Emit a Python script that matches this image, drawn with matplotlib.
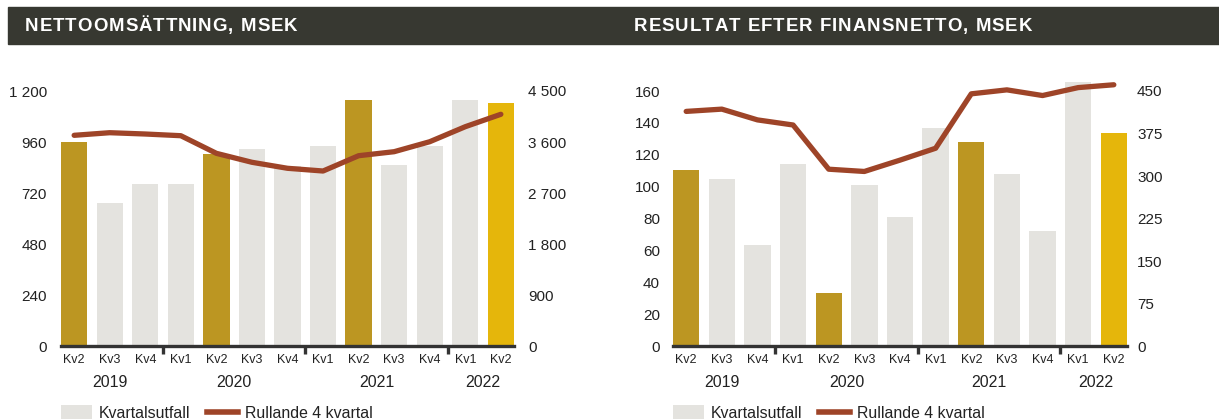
import matplotlib
matplotlib.use("Agg")
import matplotlib.pyplot as plt
from matplotlib.patches import Patch
from matplotlib.lines import Line2D
from matplotlib.font_manager import FontProperties
from matplotlib.textpath import TextToPath

plt.rcParams["font.family"] = ["Liberation Sans", "DejaVu Sans"]

# Data
quarters = ["Kv2", "Kv3", "Kv4", "Kv1", "Kv2", "Kv3", "Kv4",
            "Kv1", "Kv2", "Kv3", "Kv4", "Kv1", "Kv2"]
years = ["2019", "2020", "2021", "2022"]
year_pos = [1.0, 4.5, 8.5, 11.5]
year_breaks = [2.5, 6.5, 10.5]

net_sales = [960, 673, 762, 762, 904, 927, 847, 941, 1158, 852, 941, 1158, 1144]
net_sales_r4 = [3718, 3764, 3741, 3711, 3400, 3242, 3136, 3088, 3358, 3429, 3605, 3870, 4089]

result = [110.4, 104.8, 63.4, 114.2, 33.3, 101.0, 81.1, 136.8, 128.0, 107.9, 72.1, 165.6, 133.6]
result_r4 = [414, 418, 399, 390, 312, 308, 328, 349, 445, 452, 442, 456, 461]

# Colours
c_title = "#373831"
c_gold = "#bc9622"
c_yellow = "#e5b60b"
c_grey = "#e4e3df"
c_line = "#9e4428"
c_axis = "#333333"
c_text = "#222222"

W, H = 1219, 419
fig = plt.figure(figsize=(W / 100, H / 100), dpi=100)


def px(x0, y0, x1, y1):
    # pixel box (top-left origin) -> figure fraction rect
    return [x0 / W, 1 - y1 / H, (x1 - x0) / W, (y1 - y0) / H]


def spaced_title(x, y, s, size=13.4, track=1.0):
    # letter-spaced bold heading, x/y in pixels
    prop = FontProperties(family="Liberation Sans", weight="bold", size=size)
    ttp = TextToPath()
    for ch in s:
        fig.text(x / W, 1 - y / H, ch, fontproperties=prop, color="white",
                 va="center", ha="left")
        w = ttp.get_text_width_height_descent(ch, prop, ismath=False)[0]
        x += w * 100 / 72 + track


# Title band across the whole width
fig.patches.append(plt.Rectangle((8 / W, 1 - 44 / H), 1 - 8 / W, 37 / H,
                                 transform=fig.transFigure, color=c_title, zorder=0))
spaced_title(25, 26.5, "NETTOOMSÄTTNING, MSEK")
spaced_title(634, 26.5, "RESULTAT EFTER FINANSNETTO, MSEK")

bar_colors = [c_gold if q == "Kv2" else c_grey for q in quarters]
bar_colors[-1] = c_yellow


def panel(x0, x1, bars, line, ymax, yticks, yticks_r, rlabels, lpad, rpad):
    top = 346 - 255 * ymax / yticks[-1]
    ax = fig.add_axes(px(x0, top, x1, 346))
    ax2 = ax.twinx()
    ax.set_zorder(ax2.get_zorder() - 1)
    ax.patch.set_visible(False)
    ax2.patch.set_visible(False)

    xs = list(range(len(quarters)))
    ax.bar(xs, bars, width=0.74, color=bar_colors, zorder=2)
    ax.axhline(0, color=c_axis, lw=2.4, zorder=3, clip_on=False)
    ax2.plot(xs, line, color=c_line, lw=3.8, solid_capstyle="round",
             solid_joinstyle="round", zorder=4)

    ax.set_xlim(-0.37, len(quarters) - 0.63)
    ax.set_ylim(0, ymax)
    ax2.set_ylim(0, ymax * yticks_r[-1] / yticks[-1])

    ax.set_yticks(yticks)
    ax.set_yticklabels([f"{v:,}".replace(",", " ") for v in yticks])
    ax2.set_yticks(yticks_r)
    ax2.set_yticklabels(rlabels)

    ax.set_xticks(xs)
    ax.set_xticklabels(quarters)
    ax.set_xticks(year_breaks, minor=True)

    for a in (ax, ax2):
        for s in a.spines.values():
            s.set_visible(False)
    ax.tick_params(axis="y", length=0, labelsize=11, pad=lpad, labelcolor=c_text)
    ax2.tick_params(axis="y", length=0, labelsize=11, pad=rpad, labelcolor=c_text)
    ax.tick_params(axis="x", which="major", length=0, labelsize=9, pad=5.5,
                   labelcolor=c_text)
    ax.tick_params(axis="x", which="minor", length=6, width=2.4, color=c_axis,
                   direction="out")

    for xp, yr in zip(year_pos, years):
        ax.text(xp, -36 / (346 - top), yr, transform=ax.get_xaxis_transform(),
                ha="center", va="center", fontsize=11.4, color=c_text)

    handles = [Patch(facecolor=c_grey, edgecolor="none"),
               Line2D([0], [0], color=c_line, lw=4)]
    ax.legend(handles, ["Kvartalsutfall", "Rullande 4 kvartal"], ncol=2,
              loc="upper left", bbox_to_anchor=(x0 / W, 1 - 405 / H),
              bbox_transform=fig.transFigure, frameon=False, fontsize=11.4,
              borderpad=0, borderaxespad=0, handlelength=1.95, handleheight=1.2,
              handletextpad=0.45, columnspacing=1.05, labelcolor=c_text)
    return ax


panel(61, 514, net_sales, net_sales_r4, 1275,
      [0, 240, 480, 720, 960, 1200], [0, 900, 1800, 2700, 3600, 4500],
      ["0", "900", "1 800", "2 700", "3 600", "4 500"], 10, 10)
panel(673, 1127, result, result_r4, 170,
      [0, 20, 40, 60, 80, 100, 120, 140, 160], [0, 75, 150, 225, 300, 375, 450],
      ["0", "75", "150", "225", "300", "375", "450"], 9.4, 7.2)

fig.savefig("out.png", dpi=100)
